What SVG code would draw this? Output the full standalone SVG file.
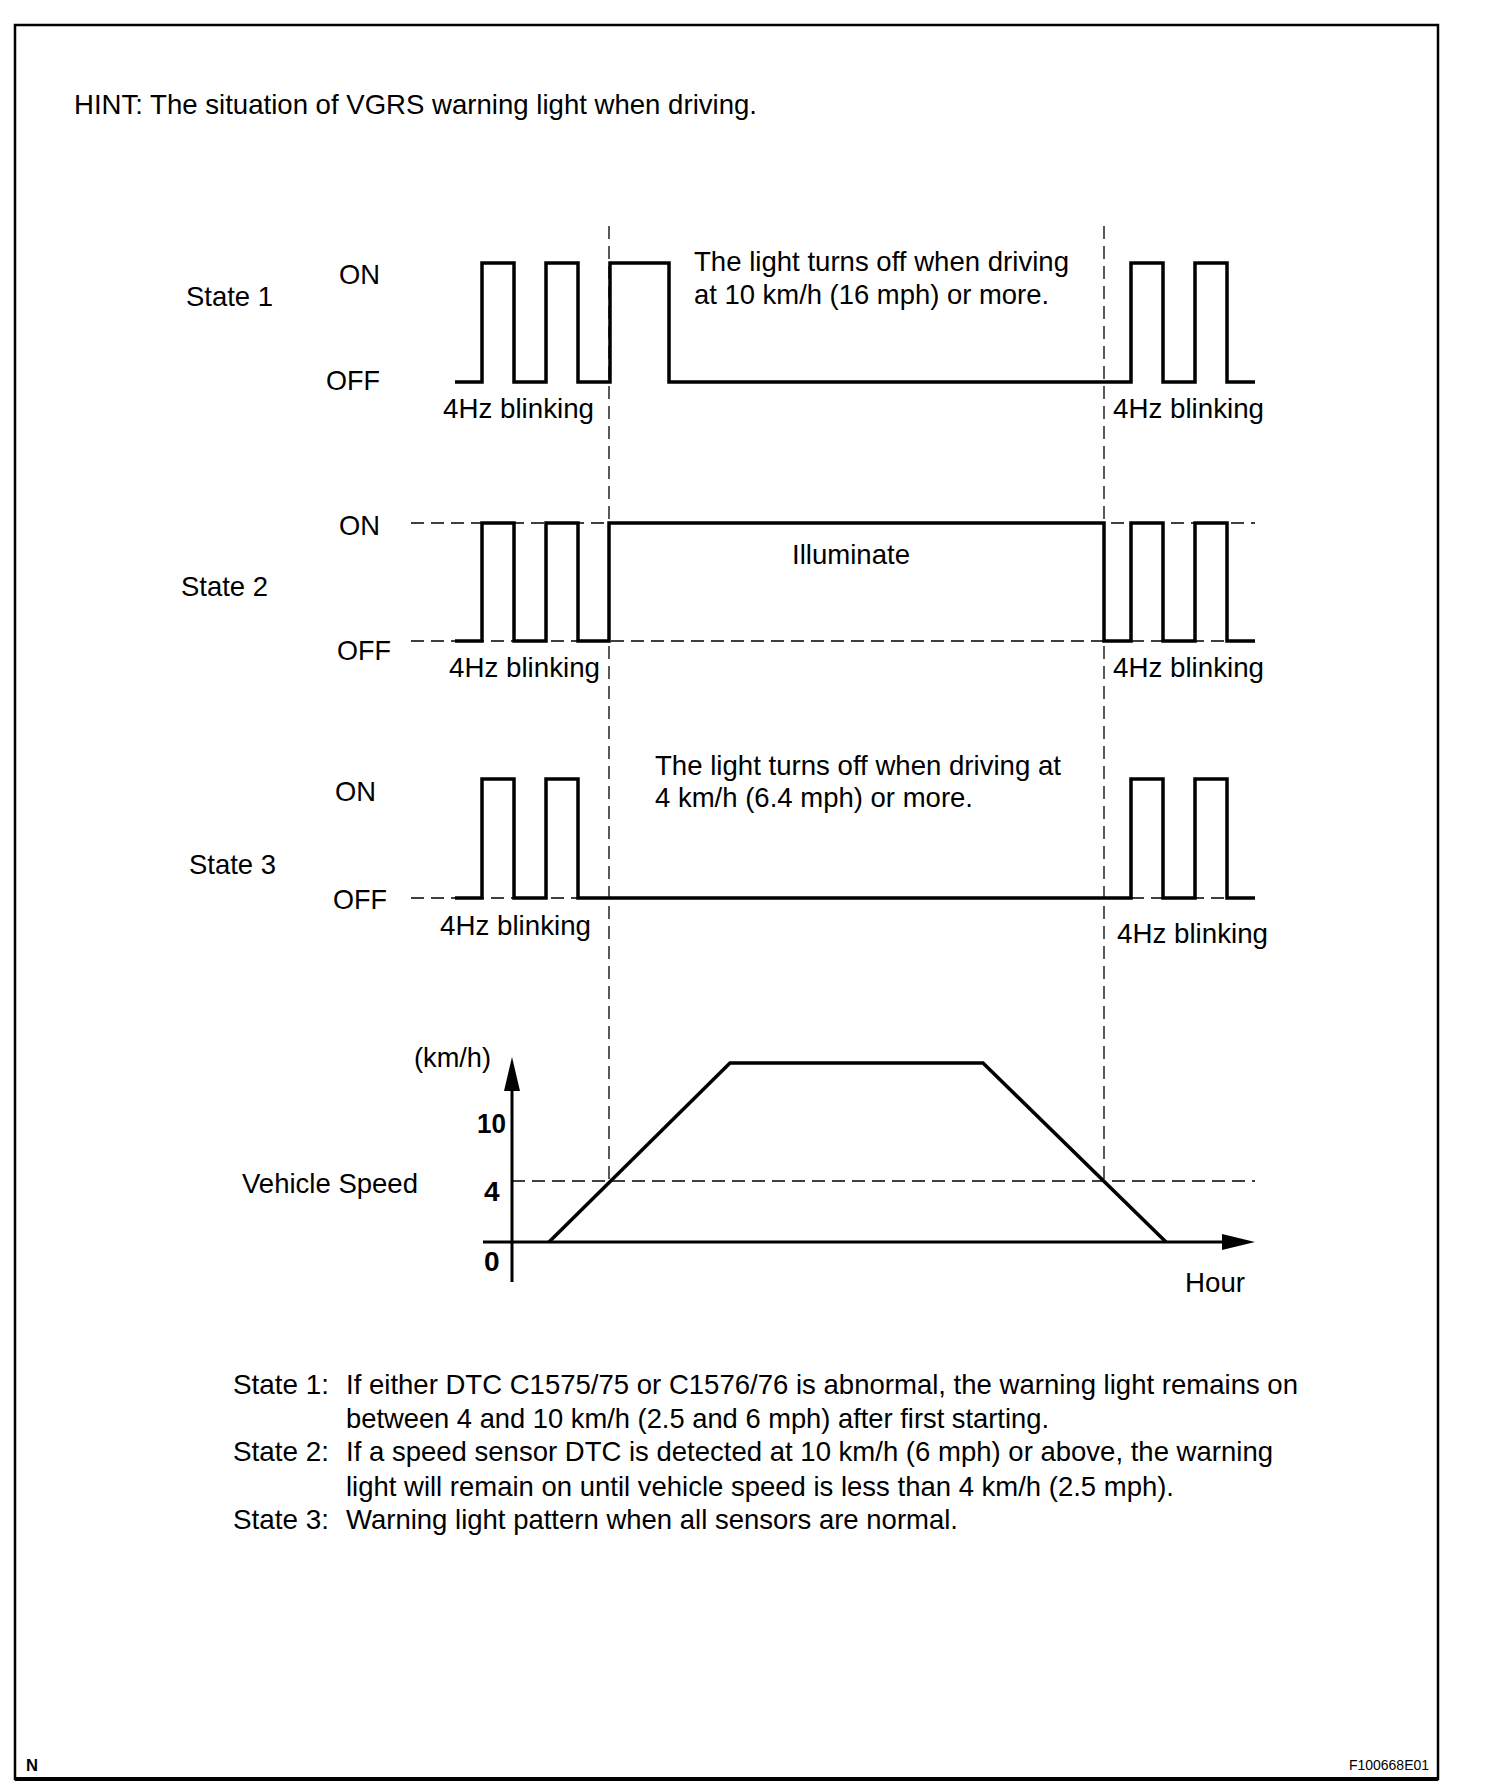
<svg xmlns="http://www.w3.org/2000/svg" width="1504" height="1792" viewBox="0 0 1504 1792">
<style>
text{font-family:"Liberation Sans",Arial,Helvetica,sans-serif;font-size:28px;fill:#000}
.b{font-weight:bold}
.sm{font-size:14px}
.n{font-size:17px}
.wave{fill:none;stroke:#000;stroke-width:3.5;stroke-linejoin:miter;stroke-linecap:butt}
.dash{fill:none;stroke:#000;stroke-width:1.3;stroke-dasharray:13 7}
.axis{fill:none;stroke:#000;stroke-width:3}
</style>
<rect x="0" y="0" width="1504" height="1792" fill="#fff"/>
<rect id="frame" x="15" y="25" width="1423" height="1754" fill="none" stroke="#000" stroke-width="2.5"/>
<line x1="15" y1="1779" x2="1438" y2="1779" stroke="#000" stroke-width="4"/>
<text x="74" y="114" textLength="683" lengthAdjust="spacingAndGlyphs">HINT: The situation of VGRS warning light when driving.</text>

<g id="connectors">
  <line class="dash" x1="609" y1="226" x2="609" y2="1181"/>
  <line class="dash" x1="1104" y1="226" x2="1104" y2="1181"/>
  <line class="dash" x1="411" y1="523" x2="1255" y2="523"/>
  <line class="dash" x1="411" y1="641" x2="1255" y2="641"/>
  <line class="dash" x1="411" y1="898" x2="1255" y2="898"/>
  <line class="dash" x1="512" y1="1181" x2="1255" y2="1181"/>
</g>

<g id="state1">
  <text x="186" y="306" textLength="87" lengthAdjust="spacingAndGlyphs">State 1</text>
  <text x="339" y="284" textLength="41" lengthAdjust="spacingAndGlyphs">ON</text>
  <text x="326" y="390" textLength="54" lengthAdjust="spacingAndGlyphs">OFF</text>
  <path class="wave" d="M455,382 H482 V263 H514 V382 H546 V263 H578 V382 H610 V263 H669 V382 H1131 V263 H1163 V382 H1195 V263 H1227 V382 H1255"/>
  <text x="694" y="271" textLength="375" lengthAdjust="spacingAndGlyphs">The light turns off when driving</text>
  <text x="694" y="304" textLength="355" lengthAdjust="spacingAndGlyphs">at 10 km/h (16 mph) or more.</text>
  <text x="443" y="418" textLength="151" lengthAdjust="spacingAndGlyphs">4Hz blinking</text>
  <text x="1113" y="418" textLength="151" lengthAdjust="spacingAndGlyphs">4Hz blinking</text>
</g>

<g id="state2">
  <text x="181" y="596" textLength="87" lengthAdjust="spacingAndGlyphs">State 2</text>
  <text x="339" y="535" textLength="41" lengthAdjust="spacingAndGlyphs">ON</text>
  <text x="337" y="660" textLength="54" lengthAdjust="spacingAndGlyphs">OFF</text>
  <path class="wave" d="M455,641 H482 V523 H514 V641 H546 V523 H578 V641 H609 V523 H1104 V641 H1131 V523 H1163 V641 H1195 V523 H1227 V641 H1255"/>
  <text x="792" y="564" textLength="118" lengthAdjust="spacingAndGlyphs">Illuminate</text>
  <text x="449" y="677" textLength="151" lengthAdjust="spacingAndGlyphs">4Hz blinking</text>
  <text x="1113" y="677" textLength="151" lengthAdjust="spacingAndGlyphs">4Hz blinking</text>
</g>

<g id="state3">
  <text x="189" y="874" textLength="87" lengthAdjust="spacingAndGlyphs">State 3</text>
  <text x="335" y="801" textLength="41" lengthAdjust="spacingAndGlyphs">ON</text>
  <text x="333" y="909" textLength="54" lengthAdjust="spacingAndGlyphs">OFF</text>
  <path class="wave" d="M455,898 H482 V779 H514 V898 H546 V779 H578 V898 H1131 V779 H1163 V898 H1195 V779 H1227 V898 H1255"/>
  <text x="655" y="775" textLength="406" lengthAdjust="spacingAndGlyphs">The light turns off when driving at</text>
  <text x="655" y="807" textLength="318" lengthAdjust="spacingAndGlyphs">4 km/h (6.4 mph) or more.</text>
  <text x="440" y="935" textLength="151" lengthAdjust="spacingAndGlyphs">4Hz blinking</text>
  <text x="1117" y="943" textLength="151" lengthAdjust="spacingAndGlyphs">4Hz blinking</text>
</g>

<g id="speed-chart">
  <line class="axis" x1="512" y1="1282" x2="512" y2="1085"/>
  <polygon points="512,1057 504,1091 520,1091" fill="#000"/>
  <line class="axis" x1="483" y1="1242" x2="1228" y2="1242"/>
  <polygon points="1255,1242 1222,1234 1222,1250" fill="#000"/>
  <path class="wave" d="M549,1242 L730,1063 H983 L1166,1242"/>
  <text x="414" y="1067" textLength="77" lengthAdjust="spacingAndGlyphs">(km/h)</text>
  <text class="b" x="477" y="1133" textLength="29" lengthAdjust="spacingAndGlyphs">10</text>
  <text class="b" x="484" y="1201">4</text>
  <text class="b" x="484" y="1271">0</text>
  <text x="242" y="1193" textLength="176" lengthAdjust="spacingAndGlyphs">Vehicle Speed</text>
  <text x="1185" y="1292" textLength="60" lengthAdjust="spacingAndGlyphs">Hour</text>
</g>

<g id="notes">
  <text x="233" y="1394" textLength="96" lengthAdjust="spacingAndGlyphs">State 1:</text>
  <text x="346" y="1394" textLength="952" lengthAdjust="spacingAndGlyphs">If either DTC C1575/75 or C1576/76 is abnormal, the warning light remains on</text>
  <text x="346" y="1428" textLength="703" lengthAdjust="spacingAndGlyphs">between 4 and 10 km/h (2.5 and 6 mph) after first starting.</text>
  <text x="233" y="1461" textLength="96" lengthAdjust="spacingAndGlyphs">State 2:</text>
  <text x="346" y="1461" textLength="927" lengthAdjust="spacingAndGlyphs">If a speed sensor DTC is detected at 10 km/h (6 mph) or above, the warning</text>
  <text x="346" y="1496" textLength="828" lengthAdjust="spacingAndGlyphs">light will remain on until vehicle speed is less than 4 km/h (2.5 mph).</text>
  <text x="233" y="1529" textLength="96" lengthAdjust="spacingAndGlyphs">State 3:</text>
  <text x="346" y="1529" textLength="612" lengthAdjust="spacingAndGlyphs">Warning light pattern when all sensors are normal.</text>
</g>

<text class="b n" x="26" y="1771" textLength="12" lengthAdjust="spacingAndGlyphs">N</text>
<text class="sm" x="1349" y="1770" textLength="80" lengthAdjust="spacingAndGlyphs">F100668E01</text>
</svg>
